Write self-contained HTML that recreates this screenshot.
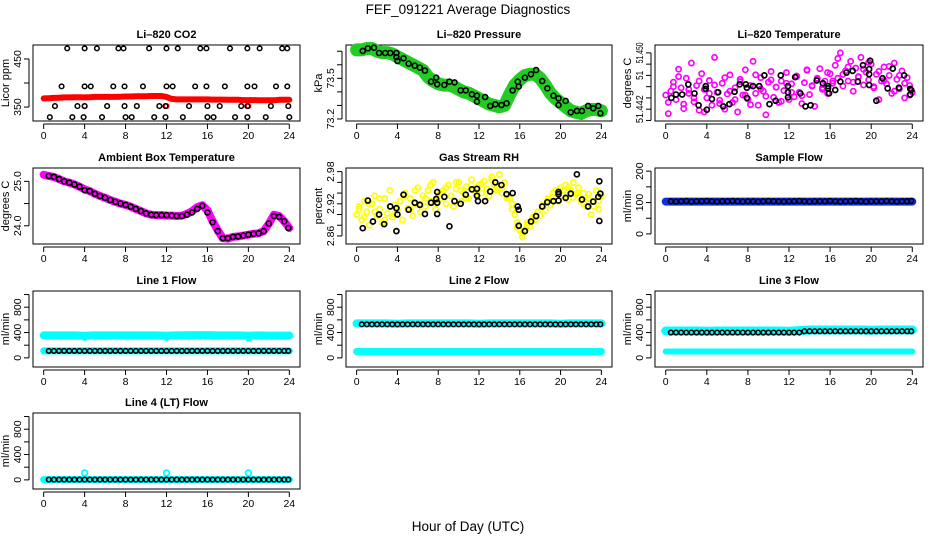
<!DOCTYPE html>
<html><head><meta charset="utf-8">
<style>
html,body{margin:0;padding:0;background:#fff;}
svg{display:block;font-family:"Liberation Sans",sans-serif;}
</style></head>
<body>
<svg id="chart" width="936" height="540" viewBox="0 0 936 540">
<text x="468" y="14" text-anchor="middle" font-size="13.5">FEF_091221  Average Diagnostics</text>
<text x="468" y="531" text-anchor="middle" font-size="13.5">Hour of Day (UTC)</text>
</svg>
<script>
// ---------- data ----------
const xTicks = [0,4,8,12,16,20,24];
const halfHours = [0.5,1,1.5,2,2.5,3,3.5,4,4.5,5,5.5,6,6.5,7,7.5,8,8.5,9,9.5,10,10.5,11,11.5,12,12.5,13,13.5,14,14.5,15,15.5,16,16.5,17,17.5,18,18.5,19,19.5,20,20.5,21,21.5,22,22.5,23,23.5,23.9];
const hours = [0,1,2,3,4,5,6,7,8,9,10,11,12,13,14,15,16,17,18,19,20,21,22,23,24];
const bandHours = [0,0.5,1,1.5,2,2.5,3,3.5,4,4.5,5,5.5,6,6.5,7,7.5,8,8.5,9,9.5,10,10.5,11,11.5,12,12.5,13,13.5,14,14.5,15,15.5,16,16.5,17,17.5,18,18.5,19,19.5,20,20.5,21,21.5,22,22.5,23,23.5,24];

// CO2
const co2HighHours = [2.3,4.0,5.2,7.3,7.8,10.3,12.0,13.1,15.3,15.9,18.2,19.9,21.1,23.3,23.8];
const co2MidHours = [1.75,4.0,4.6,6.8,7.9,9.7,12.0,12.6,14.8,15.9,17.7,19.9,20.6,22.7,23.8];
const co2LowHours = [1.1,3.3,4.0,6.2,7.9,9.1,11.3,11.9,14.2,16.0,17.2,19.3,19.9,22.2,23.9];
const co2BottomHours = [0.6,2.8,3.9,5.7,8.0,8.6,10.8,11.9,13.6,16.0,16.6,18.7,19.9,21.7,24.0];
const co2Levels = [472,393,352,329];
const co2Band = [368,368.5,369,369.5,370,370,370.5,370.5,370,370.5,371,371,371,371,371,371.5,372,372,372.5,372.5,372.5,373,373,373,371,367,366,366,366,366,366,366,366,365.5,365.5,365.5,365,365,365,364.5,364.5,364.5,364,364,364,364,365,365,365];

// Pressure
const presHours = [0.6,1.1,1.7,2.2,2.8,3.3,3.9,3.9,4.0,4.6,5.1,5.7,6.2,6.7,7.3,7.8,7.9,8.6,9.1,9.6,10.2,10.7,11.3,11.8,11.8,12.6,13.1,13.6,14.2,14.7,15.3,15.8,15.9,16.5,17.1,17.6,18.2,18.7,19.3,19.8,19.8,20.5,21.0,21.6,22.1,22.7,23.2,23.7,23.9];
const presVals = [73.702,73.721,73.726,73.687,73.687,73.687,73.687,73.657,73.628,73.648,73.608,73.593,73.579,73.557,73.475,73.505,73.456,73.451,73.475,73.470,73.411,73.411,73.382,73.372,73.328,73.362,73.296,73.308,73.303,73.316,73.411,73.475,73.439,73.505,73.530,73.561,73.480,73.426,73.372,73.352,73.303,73.333,73.249,73.259,73.259,73.296,73.279,73.296,73.242];
const presBand = [73.71,73.71,73.72,73.72,73.70,73.69,73.69,73.68,73.66,73.64,73.62,73.60,73.58,73.56,73.51,73.48,73.46,73.45,73.45,73.44,73.42,73.40,73.39,73.37,73.35,73.33,73.31,73.30,73.29,73.30,73.38,73.45,73.49,73.52,73.53,73.53,73.50,73.45,73.39,73.35,73.32,73.29,73.26,73.25,73.24,73.26,73.27,73.27,73.26];

// Li-820 temperature
const tempHours = [0.55,1.0,1.6,2.2,2.8,3.2,3.9,3.9,4.0,4.5,5.1,5.6,6.2,6.7,7.2,7.8,7.9,7.9,8.5,9.1,9.6,10.1,10.7,11.2,11.9,11.9,11.9,12.6,13.1,13.6,14.1,14.7,15.3,15.8,15.8,15.9,16.5,17.0,17.6,18.2,18.7,19.2,19.8,19.8,19.9,19.8,20.5,21.1,21.6,22.1,22.7,23.2,23.8,23.8,23.9];
const tempVals = [51.4440,51.4446,51.4446,51.4464,51.4448,51.4427,51.4461,51.4456,51.4419,51.4438,51.4450,51.4425,51.4429,51.4451,51.4464,51.4464,51.4458,51.4440,51.4461,51.4461,51.4480,51.4429,51.4435,51.4480,51.4461,51.4450,51.4441,51.4477,51.4448,51.4425,51.4427,51.4471,51.4466,51.4461,51.4457,51.4448,51.4454,51.4469,51.4485,51.4488,51.4469,51.4498,51.4491,51.4482,51.4506,51.4463,51.4435,51.4475,51.4457,51.4492,51.4458,51.4480,51.4456,51.4446,51.4454];
const tempCloud = [51.4445,51.4412,51.4452,51.4468,51.4437,51.4491,51.4458,51.4429,51.4475,51.4448,51.4502,51.4433,51.4462,51.4418,51.4483,51.4455,51.4440,
51.4471,51.4427,51.4512,51.4450,51.4436,51.4466,51.4420,51.4447,51.4481,51.4432,51.4458,51.4415,51.4473,51.4445,51.4490,51.4438,
51.4462,51.4505,51.4448,51.4427,51.4476,51.4452,51.4410,51.4468,51.4487,51.4441,51.4459,51.4432,51.4470,51.4453,51.4485,51.4437,
51.4465,51.4442,51.4478,51.4450,51.4430,51.4467,51.4489,51.4446,51.4461,51.4425,51.4474,51.4492,51.4455,51.4470,51.4448,51.4483,
51.4466,51.4498,51.4475,51.4520,51.4461,51.4488,51.4470,51.4505,51.4452,51.4493,51.4478,51.4512,51.4463,51.4486,51.4472,51.4500,
51.4458,51.4482,51.4437,51.4470,51.4495,51.4465,51.4480,51.4448,51.4502,51.4473,51.4456,51.4488,51.4440,51.4476,51.4462,51.4450];
const tempCloud2 = [51.4432,51.4460,51.4478,51.4421,51.4455,51.4440,51.4470,51.4415,51.4448,51.4463,51.4430,51.4476,51.4452,51.4437,51.4469,51.4445,51.4428,51.4481,51.4456,51.4443,51.4472,51.4459,51.4434,51.4466,51.4450,51.4479,51.4444,51.4490,51.4462,51.4475,51.4458,51.4485,51.4470,51.4510,51.4482,51.4495,51.4468,51.4477,51.4491,51.4503,51.4460,51.4487,51.4471,51.4496,51.4452,51.4480,51.4466,51.4445];

// Ambient box temperature
const ambBand = [25.15,25.12,25.1,25.05,25.0,24.97,24.93,24.88,24.82,24.78,24.72,24.67,24.63,24.58,24.54,24.5,24.47,24.43,24.38,24.33,24.28,24.25,24.24,24.24,24.23,24.23,24.22,24.23,24.27,24.33,24.42,24.46,24.35,24.1,23.9,23.72,23.71,23.75,23.76,23.78,23.8,23.82,23.83,23.88,24.05,24.25,24.22,24.1,23.95];
const ambVals = [25.12,25.1,25.05,25.0,24.97,24.93,24.88,24.8,24.78,24.72,24.67,24.63,24.58,24.54,24.5,24.47,24.43,24.38,24.33,24.28,24.25,24.24,24.24,24.24,24.23,24.22,24.22,24.25,24.3,24.38,24.45,24.3,24.08,23.88,23.72,23.72,23.75,23.76,23.78,23.8,23.82,23.83,23.88,24.05,24.22,24.2,24.1,23.95];

// Gas stream RH
const rhHours = [0.6,1.1,1.6,2.2,2.7,3.3,3.9,4.0,3.9,4.6,5.1,5.7,6.2,6.7,7.3,7.8,7.9,7.9,7.9,8.6,9.1,9.6,10.2,10.7,11.3,11.8,11.8,11.9,12.6,13.1,13.6,14.2,14.7,15.3,15.8,15.9,15.9,16.5,17.1,17.6,18.2,18.7,19.3,19.8,19.8,19.8,20.5,21.0,21.6,22.1,22.7,23.2,23.7,23.8,23.9,23.8];
const rhVals = [2.8745,2.926,2.887,2.900,2.882,2.915,2.912,2.900,2.869,2.937,2.909,2.922,2.918,2.901,2.922,2.929,2.942,2.922,2.901,2.933,2.878,2.925,2.920,2.937,2.947,2.948,2.935,2.925,2.925,2.943,2.960,2.955,2.938,2.940,2.915,2.909,2.879,2.869,2.887,2.897,2.915,2.923,2.925,2.942,2.938,2.926,2.931,2.939,2.975,2.928,2.915,2.924,2.933,2.962,2.939,2.888];
const rhCloud = [2.900,2.915,2.890,2.925,2.905,2.880,2.920,2.935,2.898,2.910,2.885,2.930,2.902,2.945,2.895,2.918,2.908,
2.925,2.890,2.940,2.912,2.930,2.898,2.920,2.950,2.905,2.935,2.915,2.945,2.925,2.960,2.910,2.938,
2.930,2.945,2.920,2.955,2.935,2.915,2.948,2.960,2.925,2.940,2.952,2.930,2.965,2.945,2.938,2.955,
2.940,2.962,2.948,2.935,2.970,2.955,2.945,2.975,2.950,2.960,2.935,2.930,2.920,2.900,2.885,2.870,
2.858,2.872,2.885,2.878,2.895,2.890,2.905,2.898,2.915,2.908,2.925,2.918,2.932,2.945,2.925,2.950,
2.935,2.955,2.928,2.945,2.960,2.938,2.950,2.925,2.940,2.915,2.930,2.900,2.925,2.945,2.910,2.935];
const rhCloud2 = [2.910,2.895,2.920,2.905,2.930,2.890,2.915,2.900,2.925,2.935,2.910,2.945,2.920,2.930,2.955,2.925,2.940,2.950,2.935,2.960,2.945,2.930,2.955,2.942,2.958,2.948,2.965,2.950,2.940,2.930,2.910,2.875,2.865,2.880,2.892,2.905,2.918,2.930,2.940,2.925,2.945,2.950,2.932,2.940,2.920,2.938,2.915,2.925];

// Flows (48 half-hour values each)
const sampleFlow = [104,103,104,105,103,104,104,105,104,103,104,104,105,104,103,104,104,103,104,105,104,104,103,104,104,105,104,103,104,104,104,105,104,103,104,104,105,104,103,104,104,104,105,104,103,104,104,105];
const sampleBand = [103,103,103,103,103,103,103,103,103,103,103,103,103,103,103,103,103,103,103,103,103,103,103,103,103];
const line1Flow = [110,110,110,110,110,110,110,110,110,110,110,110,110,110,110,110,110,110,110,110,110,110,110,110,110,110,110,110,110,110,110,110,110,110,110,110,110,110,110,110,110,110,110,110,110,110,110,110];
const line1Upper = [355,355,355,355,350,355,355,355,355,355,355,355,350,355,358,360,360,355,355,355,350,355,352,352,352];
const line1Lower = [110,110,110,110,110,110,110,110,110,110,110,110,110,110,110,110,110,110,110,110,110,110,110,110,110];
const line2Flow = [530,530,530,530,530,530,530,530,530,530,530,530,530,530,530,530,530,530,530,530,530,530,530,530,530,530,530,530,530,530,530,530,530,530,530,530,530,530,530,530,530,530,530,530,530,530,530,530];
const line2Upper = [545,545,545,545,540,545,545,545,545,545,545,545,540,545,545,545,545,545,545,545,540,545,545,545,545];
const line2Lower = [100,100,100,100,100,100,100,100,100,100,100,100,100,100,100,100,100,100,100,100,100,100,100,100,100];
const line3Flow = [400,400,400,400,400,400,400,400,400,400,400,400,400,400,400,400,400,400,400,400,400,400,400,400,400,400,420,420,420,420,420,420,420,420,420,420,420,420,420,420,420,420,420,420,420,420,420,420];
const line3Upper = [425,425,425,425,420,425,425,425,425,425,425,425,420,430,440,440,440,440,440,440,435,440,440,440,440];
const line3Lower = [100,100,100,100,100,100,100,100,100,100,100,100,100,100,100,100,100,100,100,100,100,100,100,100,100];
const line4Flow = [5,5,5,5,5,5,5,5,5,5,5,5,5,5,5,5,5,5,5,5,5,5,5,5,5,5,5,5,5,5,5,5,5,5,5,5,5,5,5,5,5,5,5,5,5,5,5,5];
const line4Band = [5,5,5,5,5,5,5,5,5,5,5,5,5,5,5,5,5,5,5,5,5,5,5,5,5];
const spikeHours = [4,12,20];
const line4Spikes = [110,110,110];
const line1Dips = [320,320,310];

// ---------- drawing ----------
const NS = 'http://www.w3.org/2000/svg';
const svg = document.getElementById('chart');
const cols = [[33,300],[346,612],[655,923]];
const rowTops = [45,168,291,413];
const PH = 76;
function mk(tag, attrs, parent){
  const e = document.createElementNS(NS, tag);
  for (const k in attrs) e.setAttribute(k, attrs[k]);
  (parent||svg).appendChild(e);
  return e;
}
function panel(col,row,title,ylab,ymin,ymax,yt,ylabels,name,labelLens){
  const L=cols[col][0], R=cols[col][1], T=rowTops[row], B=T+PH;
  const g = mk('g',{});
  
  
  const w=R-L;
  const xs = h => L + w*0.04 + (h/24)*w*0.92;
  const ys = v => B - (v-ymin)/(ymax-ymin)*PH;
  const box = mk('rect',{x:L,y:T,width:w,height:PH,fill:'none',stroke:'#000','stroke-width':1},g);
  
  
  const t = mk('text',{x:(L+R)/2,y:T-7,'text-anchor':'middle','font-size':11,'font-weight':'bold'},g);
  t.textContent = title;
  
  
  const xa = mk('g',{},g);
  
  
  mk('line',{x1:xs(0),x2:xs(24),y1:B+3,y2:B+3,stroke:'#000'},xa);
  xTicks.forEach(v=>{
    mk('line',{x1:xs(v),x2:xs(v),y1:B+3,y2:B+8,stroke:'#000'},xa);
    const tl = mk('text',{x:xs(v),y:B+18,'text-anchor':'middle','font-size':10.5},xa);
    tl.textContent = v;
    
    
  });
  const ya = mk('g',{},g);
  
  
  mk('line',{x1:L-4,x2:L-4,y1:ys(yt[0]),y2:ys(yt[yt.length-1]),stroke:'#000'},ya);
  yt.forEach((v,i)=>{
    mk('line',{x1:L-9,x2:L-4,y1:ys(v),y2:ys(v),stroke:'#000'},ya);
    if(ylabels[i]!==''){
      const at = {x:0,y:0,'text-anchor':'middle','font-size':10.5,transform:`translate(${L-12},${ys(v)}) rotate(-90)`};
      if (labelLens && labelLens[i]) { at.textLength = labelLens[i]; at.lengthAdjust = 'spacingAndGlyphs'; }
      const tl = mk('text',at,ya);
      tl.textContent = ylabels[i];
      
      
    }
  });
  const yl = mk('text',{x:0,y:0,'text-anchor':'middle','font-size':11,transform:`translate(${L-24},${T+PH/2}) rotate(-90)`},g);
  yl.textContent = ylab;
  
  
  const clip = mk('g',{},g);
  
  
  return {xs,ys,g:clip};
}
function pts(p,xsArr,vals,color,r,sw,name){
  vals.forEach((v,i)=>{
    const c = mk('circle',{cx:p.xs(xsArr[i]),cy:p.ys(v),r:r,fill:'none',stroke:color,'stroke-width':sw},p.g);
    
    
  });
}
function band(p,xsArr,vals,color,width,name){
  const d = vals.map((v,i)=>(i?'L':'M')+p.xs(xsArr[i]).toFixed(1)+','+p.ys(v).toFixed(1)).join(' ');
  const e = mk('path',{d:d,fill:'none',stroke:color,'stroke-width':width,'stroke-linejoin':'round','stroke-linecap':'round'},p.g);
  
  
}
const q = [];
for (let i=0;i<97;i++) q.push(i*0.25);
const q2 = halfHours.map((h,i)=>0.25+0.5*i);

// CO2
let p = panel(0,0,'Li\u2013820 CO2','Licor ppm',321,479,[350,400,450],['350','','450'],'co2');
band(p,bandHours,co2Band,'#ff0000',6,'co2-band');
pts(p,spikeHours,[352,352,352],'#ff0000',2.3,1.5,'co2-red-point');
pts(p,co2HighHours,co2HighHours.map(()=>co2Levels[0]),'#000',2.3,1.5,'co2-point');
pts(p,co2MidHours,co2MidHours.map(()=>co2Levels[1]),'#000',2.3,1.5,'co2-point');
pts(p,co2LowHours,co2LowHours.map(()=>co2Levels[2]),'#000',2.3,1.5,'co2-point');
pts(p,co2BottomHours,co2BottomHours.map(()=>co2Levels[3]),'#000',2.3,1.5,'co2-point');

// Pressure
p = panel(1,0,'Li\u2013820 Pressure','kPa',73.185,73.746,[73.2,73.3,73.4,73.5,73.6,73.7],['73.2','','','73.5','',''],'pressure');
band(p,bandHours,presBand,'#22cc22',13,'pressure-band');
pts(p,presHours,presVals,'#000',2.5,1.6,'pressure-point');

// Temperature
p = panel(2,0,'Li\u2013820 Temperature','degrees C',51.4399,51.4534,[51.440,51.442,51.444,51.446,51.448,51.450,51.452],['','51.442','','','51','','51.450'],'li820-temperature',[0,28,0,0,9,0,21]);
pts(p,q,tempCloud,'#ff00ff',2.6,1.7,'temperature-cloud-point');
pts(p,q2,tempCloud2,'#ff00ff',2.6,1.7,'temperature-cloud-point');
pts(p,tempHours,tempVals,'#000',2.5,1.7,'temperature-point');

// Ambient
p = panel(0,1,'Ambient Box Temperature','degrees C',23.59,25.30,[24.0,24.5,25.0],['24.0','','25.0'],'ambient-temperature');
band(p,bandHours,ambBand,'#ff00ff',8,'ambient-band');
pts(p,halfHours,ambVals,'#000',2.5,1.6,'ambient-point');

// RH
p = panel(1,1,'Gas Stream RH','percent',2.845,2.9868,[2.86,2.88,2.90,2.92,2.94,2.96,2.98],['2.86','','','2.92','','','2.98'],'gas-stream-rh');
pts(p,q,rhCloud,'#ffff00',2.6,1.7,'rh-cloud-point');
pts(p,q2,rhCloud2,'#ffff00',2.6,1.7,'rh-cloud-point');
pts(p,rhHours,rhVals,'#000',2.5,1.7,'rh-point');

// Sample flow
p = panel(2,1,'Sample Flow','ml/min',-32,210,[0,50,100,150,200],['0','','100','','200'],'sample-flow');
band(p,hours,sampleBand,'#1030e0',8,'sample-flow-band');
pts(p,halfHours,sampleFlow,'#000',2.4,1.6,'sample-flow-point');

// Line flows
const fT=[0,200,400,600,800,1000], fL=['0','','400','','800',''];
p = panel(0,2,'Line 1 Flow','ml/min',-144,1056,fT,fL,'line1-flow');
band(p,hours,line1Upper,'#00ffff',8,'line1-upper-band');
pts(p,spikeHours,line1Dips,'#00ffff',2.5,1.6,'line1-dip-point');
band(p,hours,line1Lower,'#00ffff',7,'line1-lower-band');
pts(p,halfHours,line1Flow,'#000',2.3,1.6,'line1-point');

p = panel(1,2,'Line 2 Flow','ml/min',-144,1056,fT,fL,'line2-flow');
band(p,hours,line2Upper,'#00ffff',8,'line2-upper-band');
band(p,hours,line2Lower,'#00ffff',7,'line2-lower-band');
pts(p,halfHours,line2Flow,'#000',2.3,1.6,'line2-point');

p = panel(2,2,'Line 3 Flow','ml/min',-144,1056,fT,fL,'line3-flow');
band(p,hours,line3Upper,'#00ffff',9,'line3-upper-band');
band(p,hours,line3Lower,'#00ffff',6,'line3-lower-band');
pts(p,halfHours,line3Flow,'#000',2.3,1.6,'line3-point');

p = panel(0,3,'Line 4 (LT) Flow','ml/min',-144,1056,fT,fL,'line4-flow');
band(p,hours,line4Band,'#00ffff',7,'line4-band');
pts(p,spikeHours,line4Spikes,'#00ffff',2.8,1.8,'line4-spike-point');
pts(p,halfHours,line4Flow,'#000',2.3,1.6,'line4-point');
</script>
</body></html>
